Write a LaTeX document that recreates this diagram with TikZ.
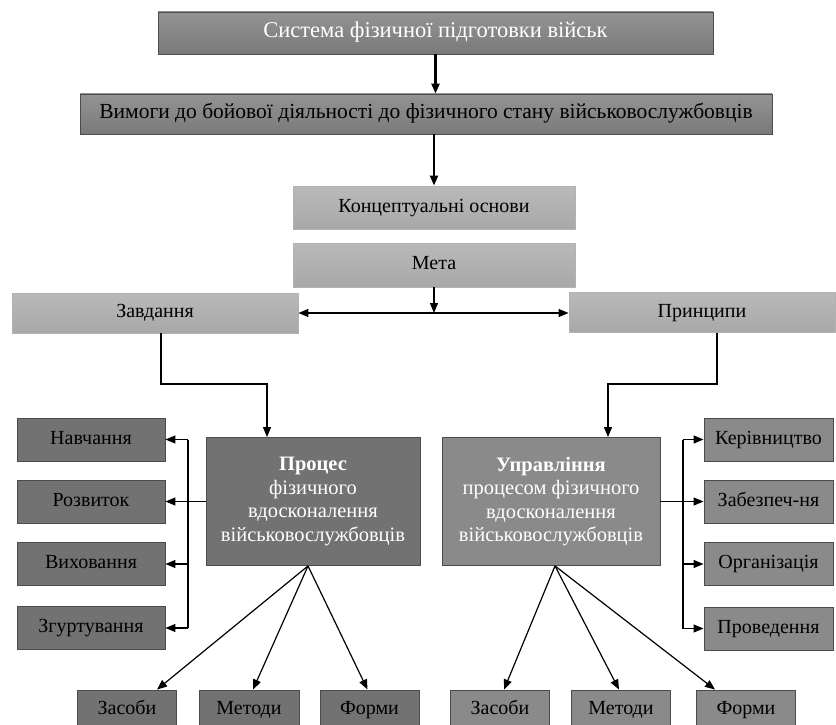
\documentclass[tikz,border=0pt]{standalone}
\usepackage{fontspec}
\setmainfont{Liberation Serif}
\usetikzlibrary{arrows.meta}

\definecolor{greydark}{HTML}{727272}
\definecolor{greymid}{HTML}{8A8A8A}
\definecolor{greylight}{HTML}{B3B3B3}

\begin{document}
\begin{tikzpicture}[x=1pt,y=-1pt,
    box/.style={draw=black!70,line width=0.9pt,inner sep=0pt,align=center,
        text height=14pt,text depth=4.5pt,font=\fontsize{20}{23}\selectfont},
    topbox/.style={box,top color=greymid!92!white,bottom color=greymid!88!black},
    lightbox/.style={box,draw=black!30,top color=greylight!92!white,bottom color=greylight!94!black},
    darkbox/.style={box,fill=greydark},
    midbox/.style={box,fill=greymid},
    bigbox/.style={text height=,text depth=,text=white,font=\fontsize{20.5}{23.5}\selectfont},
    arr/.style={-{Triangle[length=10pt,width=8pt]},line width=2.2pt},
    thin/.style={-{Triangle[length=10pt,width=8pt]},line width=1.2pt}]

    \useasboundingbox (0,0) rectangle (836,725);
    \clip (0,0) rectangle (836,725);

    % top of the scheme
    \node [topbox,minimum width=555,minimum height=42,text=white,
        font=\fontsize{22.5}{25}\selectfont] (sys) at (435.5,33) {Система фізичної підготовки військ};
    \node [topbox,minimum width=692,minimum height=40,font=\fontsize{21.5}{24}\selectfont] (vym) at (426,114)
        {Вимоги до бойової діяльності до фізичного стану військовослужбовців};
    \node [lightbox,minimum width=282,minimum height=43] (konc) at (434,207.5) {Концептуальні основи};
    \node [lightbox,minimum width=282,minimum height=44] (meta) at (434,265) {Мета};
    \node [lightbox,minimum width=286,minimum height=40] (zavd) at (155,313) {Завдання};
    \node [lightbox,minimum width=266,minimum height=40] (pryn) at (702,312.5) {Принципи};

    \draw [arr] (sys.south) -- (sys.south |- vym.north);
    \draw [arr] (konc.north |- vym.south) -- (konc.north);
    \coordinate (split) at (meta.south |- zavd.east);
    \draw [thin] (meta.south) -- (split);
    \draw [thin,{Triangle[length=10pt,width=8pt]}-{Triangle[length=10pt,width=8pt]}] (zavd.east) -- (zavd.east -| pryn.west);

    % the two main blocks
    \node [darkbox,bigbox,minimum width=214,minimum height=128] (proc) at (313,501.5)
        {\textbf{Процес}\\фізичного\\вдосконалення\\військовослужбовців};
    \node [midbox,bigbox,minimum width=218,minimum height=128] (upr) at (551,501.5)
        {\textbf{Управління}\\процесом фізичного\\вдосконалення\\військовослужбовців};

    \coordinate (lknee) at (214,384);
    \coordinate (rknee) at (660,384);
    \draw [thin] ([xshift=6pt]zavd.south) |- (lknee) -| ([xshift=-46pt]proc.north);
    \draw [thin] ([xshift=15pt]pryn.south) |- (rknee) -| ([xshift=57pt]upr.north);

    % side lists
    \foreach \name/\txt/\y in {nav/Навчання/439.5, roz/Розвиток/501.5,
                               vyh/Виховання/564, zgu/Згуртування/628}{%
        \node [darkbox,minimum width=148,minimum height=43] (\name) at (91,\y) {\txt};
    }
    \foreach \name/\txt/\y in {ker/Керівництво/439.5, zab/Забезпеч-ня/501.5,
                               org/Організація/564, prov/Проведення/628.5}{%
        \node [midbox,minimum width=129,minimum height=43] (\name) at (768.5,\y) {\txt};
    }

    \coordinate (lbus) at (188,0);
    \coordinate (rbus) at (683,0);
    \draw [line width=1.2pt] (proc.west) -- (proc.west -| lbus);
    \draw [line width=1.2pt] (nav.east -| lbus) -- (zgu.east -| lbus);
    \draw [line width=1.2pt] (upr.east) -- (upr.east -| rbus);
    \draw [line width=1.2pt] (ker.west -| rbus) -- (prov.west -| rbus);
    \foreach \name in {nav,roz,vyh,zgu}{%
        \draw [thin] (\name.east -| lbus) -- (\name.east);
    }
    \foreach \name in {ker,zab,org,prov}{%
        \draw [thin] (\name.west -| rbus) -- (\name.west);
    }

    % means, methods, forms
    \node [darkbox,minimum width=99,minimum height=40] (zas1) at (127,710) {Засоби};
    \node [darkbox,minimum width=100,minimum height=40] (met1) at (249,710) {Методи};
    \node [darkbox,minimum width=99,minimum height=40] (for1) at (369.5,710) {Форми};
    \node [midbox,minimum width=99,minimum height=40] (zas2) at (500,710) {Засоби};
    \node [midbox,minimum width=99,minimum height=40] (met2) at (621,710) {Методи};
    \node [midbox,minimum width=99,minimum height=40] (for2) at (746,710) {Форми};

    \draw [thin] ([xshift=-5pt]proc.south) -- ([xshift=30pt]zas1.north);
    \draw [thin] ([xshift=-5pt]proc.south) -- ([xshift=4pt]met1.north);
    \draw [thin] ([xshift=-5pt]proc.south) -- ([xshift=-2pt]for1.north);
    \draw [thin] ([xshift=4pt]upr.south) -- ([xshift=4pt]zas2.north);
    \draw [thin] ([xshift=4pt]upr.south) -- ([xshift=-2pt]met2.north);
    \draw [thin] ([xshift=4pt]upr.south) -- ([xshift=-31pt]for2.north);
\end{tikzpicture}
\end{document}
